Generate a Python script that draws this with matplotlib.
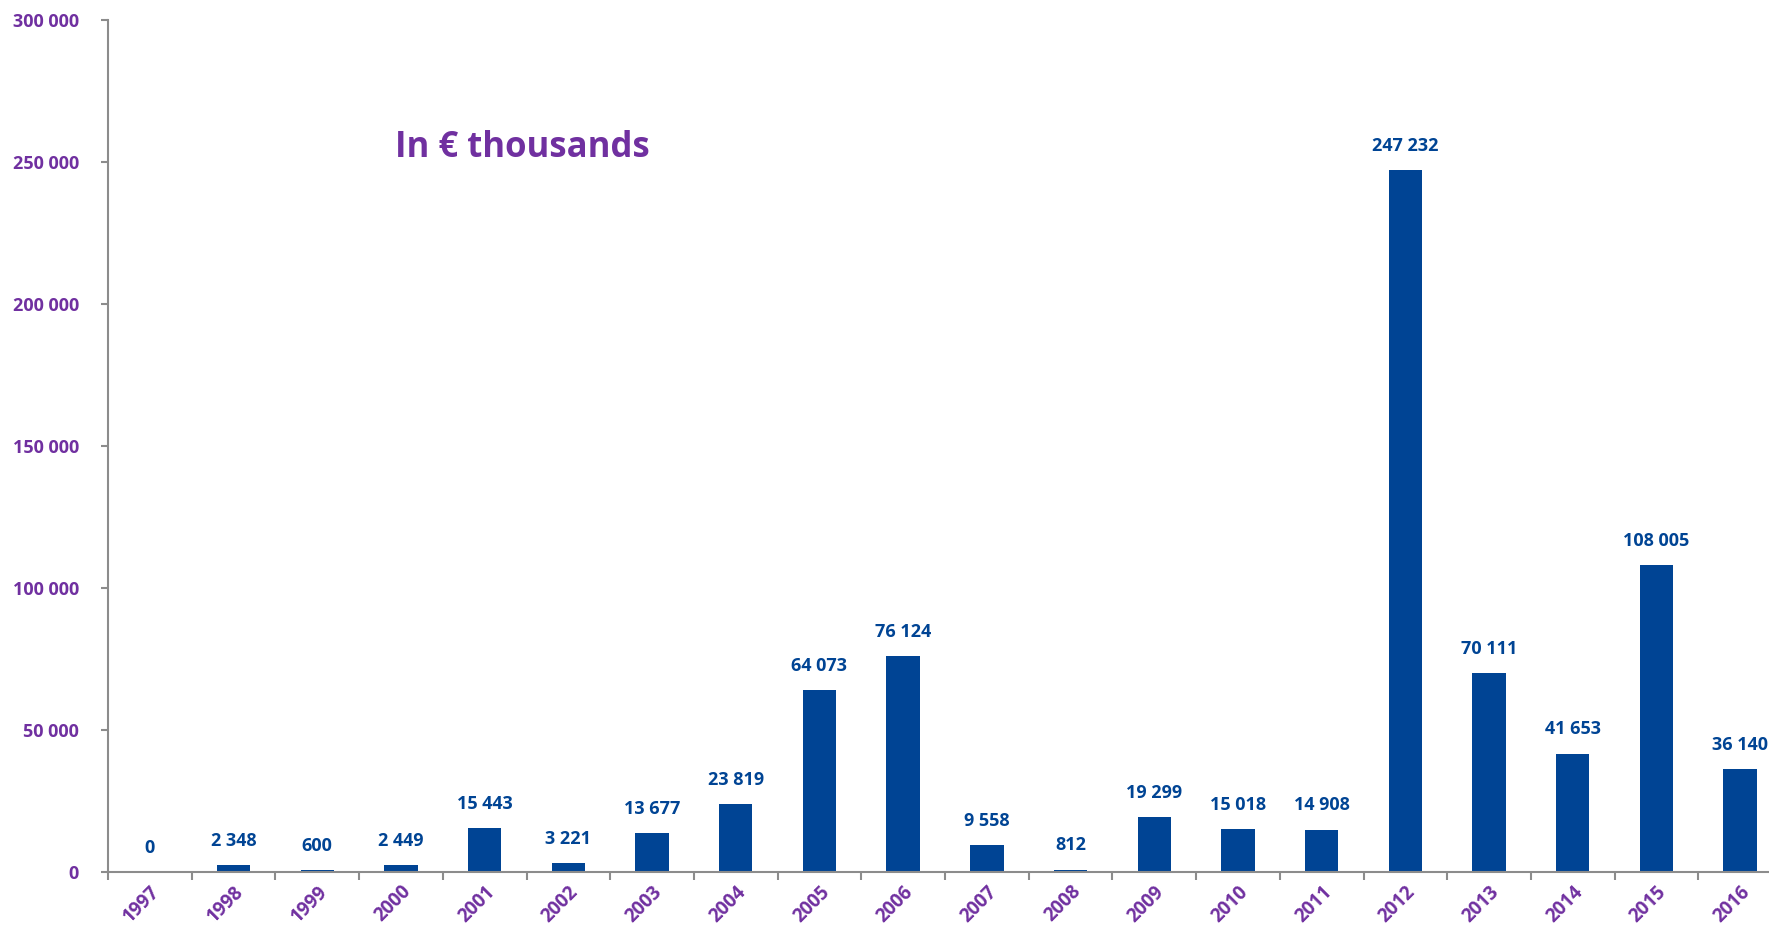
import matplotlib.pyplot as plt
from matplotlib.ticker import FuncFormatter, FixedLocator

# investment amounts per year, in thousands of euros
years = [str(y) for y in range(1997, 2017)]
amounts = [0, 2348, 600, 2449, 15443, 3221, 13677, 23819, 64073, 76124,
           9558, 812, 19299, 15018, 14908, 247232, 70111, 41653, 108005, 36140]

BAR_BLUE = "#004494"
PURPLE = "#7030A0"
SPINE = "#8c8c8c"

plt.rcParams['font.family'] = ['Open Sans', 'DejaVu Sans']
plt.rcParams['font.weight'] = 'bold'


def space_thousands(v, pos=None):
    # french style grouping: 247 232
    return f"{int(round(v)):,}".replace(",", " ")


def main():
    fig = plt.figure(figsize=(17.69, 9.32), dpi=100)
    # axes run a little past the right edge of the figure
    ax = fig.add_axes([108 / 1769, 60 / 932, 1674 / 1769, 852 / 932])

    x = range(len(years))
    ax.bar(x, amounts, width=0.4, color=BAR_BLUE, zorder=2)

    for i, v in enumerate(amounts):
        ax.annotate(space_thousands(v), (i, v), xytext=(0, 11), textcoords="offset points",
                    ha="center", va="bottom", color=BAR_BLUE, fontsize=13, fontweight="bold")

    ax.set_xlim(-0.5, len(years) - 0.5)
    ax.set_ylim(0, 300000)

    ax.set_yticks(range(0, 300001, 50000))
    ax.yaxis.set_major_formatter(FuncFormatter(space_thousands))
    ax.tick_params(axis="y", colors=SPINE, labelcolor=PURPLE, labelsize=13, length=5,
                   width=1.5, pad=16)

    # ticks between categories, labels centred under the bars
    ax.set_xticks(list(x))
    ax.set_xticklabels(years, rotation=45, ha="right", rotation_mode="anchor")
    ax.tick_params(axis="x", which="major", length=0, labelcolor=PURPLE, labelsize=13.5, pad=7)
    ax.xaxis.set_minor_locator(FixedLocator([i - 0.5 for i in range(len(years) + 1)]))
    ax.tick_params(axis="x", which="minor", length=6, width=1.5, colors=SPINE)

    for side in ["top", "right"]:
        ax.spines[side].set_visible(False)
    for side in ["left", "bottom"]:
        ax.spines[side].set_color(SPINE)
        ax.spines[side].set_linewidth(1.5)

    fig.text(395 / 1769, 1 - 148 / 932, "In € thousands", color=PURPLE, fontsize=25,
             fontweight="bold", ha="left", va="center")

    fig.savefig("out.png", dpi=100)
    plt.close(fig)


if __name__ == '__main__':
    main()
